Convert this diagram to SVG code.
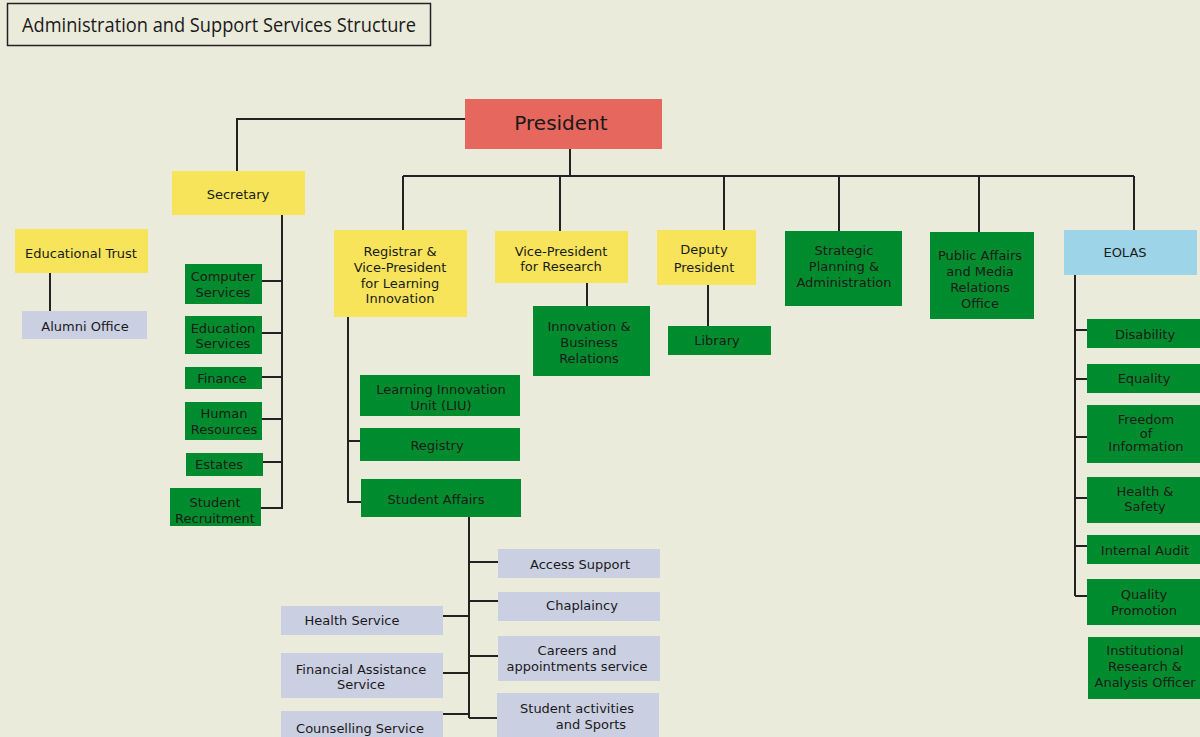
<svg xmlns="http://www.w3.org/2000/svg" width="1200" height="737" viewBox="0 0 1200 737">
<style>
text{font-family:"DejaVu Sans",Verdana,sans-serif;font-size:13px;fill:#1a1a1a;text-anchor:middle}
.r{fill:#E5675D}.y{fill:#F7E45A}.g{fill:#008C2E}.l{fill:#CACFE2}.b{fill:#9DD4E8}
.c{fill:none;stroke:#222;stroke-width:2}
</style>
<rect width="1200" height="737" fill="#EBEBDC"/>
<g id="title"><rect x="7.5" y="3.5" width="423" height="42" fill="none" stroke="#222" stroke-width="1.5"/><text x="219" y="32" style="font-family:'Open Sans','Liberation Sans',sans-serif;font-size:20px" textLength="394" lengthAdjust="spacingAndGlyphs">Administration and Support Services Structure</text></g>
<g id="connectors" class="c">
<path d="M465 119H237V171"/>
<path d="M570 149V176M403 176H1134M403 176V230M560 176V231M724 176V230M839 176V231M979 176V232M1134 176V230"/>
<path d="M50 273V311"/>
<path d="M282 215V509M262 281H282M262 333H282M262 377H282M262 419H282M263 462H282M261 508H282"/>
<path d="M587 283V306M708 285V326"/>
<path d="M1075 275V596M1075 330H1087M1075 379H1087M1075 437H1087M1075 498H1087M1075 546H1087M1075 596H1087"/>
<path d="M348 317V502H361M348 441H360"/>
<path d="M469 517V718M469 562H498M469 601H498M469 656H498M469 718H497M443 616H469M443 673H469M443 714H469"/>
</g>
<g id="president"><rect class="r" x="465" y="99" width="197" height="50"/><text x="561" y="130" style="font-size:20px">President</text></g>
<g id="secretary"><rect class="y" x="172" y="171" width="133" height="44"/><text x="238" y="199">Secretary</text></g>
<g id="edtrust"><rect class="y" x="15" y="229" width="133" height="44"/><text x="81" y="258">Educational Trust</text></g>
<g id="alumni"><rect class="l" x="22" y="311" width="125" height="28"/><text x="85" y="331">Alumni Office</text></g>
<g id="computer"><rect class="g" x="185" y="264" width="77" height="40"/><text x="223" y="281">Computer</text><text x="223" y="297">Services</text></g>
<g id="education"><rect class="g" x="185" y="316" width="77" height="38"/><text x="223" y="333">Education</text><text x="223" y="348">Services</text></g>
<g id="finance"><rect class="g" x="185" y="367" width="77" height="22"/><text x="222" y="383">Finance</text></g>
<g id="hr"><rect class="g" x="185" y="402" width="77" height="38"/><text x="224" y="418">Human</text><text x="224" y="434">Resources</text></g>
<g id="estates"><rect class="g" x="186" y="453" width="77" height="23"/><text x="219" y="469">Estates</text></g>
<g id="recruitment"><rect class="g" x="170" y="488" width="91" height="38"/><text x="215" y="507">Student</text><text x="215" y="523">Recruitment</text></g>
<g id="registrar"><rect class="y" x="334" y="230" width="133" height="87"/><text x="400" y="256">Registrar &amp;</text><text x="400" y="272">Vice-President</text><text x="400" y="288">for Learning</text><text x="400" y="303">Innovation</text></g>
<g id="vpresearch"><rect class="y" x="495" y="231" width="133" height="52"/><text x="561" y="256">Vice-President</text><text x="561" y="271">for Research</text></g>
<g id="innovation"><rect class="g" x="533" y="306" width="117" height="70"/><text x="589" y="331">Innovation &amp;</text><text x="589" y="347">Business</text><text x="589" y="363">Relations</text></g>
<g id="deputy"><rect class="y" x="657" y="230" width="99" height="55"/><text x="704" y="254">Deputy</text><text x="704" y="272">President</text></g>
<g id="library"><rect class="g" x="668" y="326" width="103" height="29"/><text x="717" y="345">Library</text></g>
<g id="strategic"><rect class="g" x="785" y="231" width="117" height="75"/><text x="844" y="255">Strategic</text><text x="844" y="271">Planning &amp;</text><text x="844" y="287">Administration</text></g>
<g id="publicaffairs"><rect class="g" x="930" y="232" width="104" height="87"/><text x="980" y="260">Public Affairs</text><text x="980" y="276">and Media</text><text x="980" y="292">Relations</text><text x="980" y="308">Office</text></g>
<g id="eolas"><rect class="b" x="1064" y="230" width="133" height="45"/><text x="1125" y="257">EOLAS</text></g>
<g id="disability"><rect class="g" x="1087" y="319" width="113" height="29"/><text x="1145" y="339">Disability</text></g>
<g id="equality"><rect class="g" x="1087" y="364" width="113" height="29"/><text x="1144" y="383">Equality</text></g>
<g id="freedom"><rect class="g" x="1087" y="405" width="113" height="58"/><text x="1146" y="424">Freedom</text><text x="1146" y="438">of</text><text x="1146" y="451">Information</text></g>
<g id="health"><rect class="g" x="1087" y="477" width="113" height="46"/><text x="1145" y="496">Health &amp;</text><text x="1145" y="511">Safety</text></g>
<g id="audit"><rect class="g" x="1087" y="535" width="113" height="29"/><text x="1145" y="555">Internal Audit</text></g>
<g id="quality"><rect class="g" x="1087" y="579" width="113" height="46"/><text x="1144" y="599">Quality</text><text x="1144" y="615">Promotion</text></g>
<g id="institutional"><rect class="g" x="1088" y="637" width="112" height="62"/><text x="1145" y="655">Institutional</text><text x="1145" y="671">Research &amp;</text><text x="1145" y="687">Analysis Officer</text></g>
<g id="liu"><rect class="g" x="360" y="375" width="160" height="41"/><text x="441" y="394">Learning Innovation</text><text x="441" y="410">Unit (LIU)</text></g>
<g id="registry"><rect class="g" x="360" y="428" width="160" height="33"/><text x="437" y="450">Registry</text></g>
<g id="studentaffairs"><rect class="g" x="361" y="479" width="160" height="38"/><text x="436" y="504">Student Affairs</text></g>
<g id="access"><rect class="l" x="498" y="549" width="162" height="29"/><text x="580" y="569">Access Support</text></g>
<g id="chaplaincy"><rect class="l" x="498" y="592" width="162" height="29"/><text x="582" y="610">Chaplaincy</text></g>
<g id="careers"><rect class="l" x="498" y="636" width="162" height="45"/><text x="577" y="655">Careers and</text><text x="577" y="671">appointments service</text></g>
<g id="activities"><rect class="l" x="497" y="693" width="162" height="44"/><text x="577" y="713">Student activities</text><text x="591" y="729">and Sports</text></g>
<g id="healthservice"><rect class="l" x="281" y="606" width="162" height="29"/><text x="352" y="625">Health Service</text></g>
<g id="financial"><rect class="l" x="281" y="653" width="162" height="45"/><text x="361" y="674">Financial Assistance</text><text x="361" y="689">Service</text></g>
<g id="counselling"><rect class="l" x="281" y="711" width="162" height="26"/><text x="360" y="733">Counselling Service</text></g>
</svg>
